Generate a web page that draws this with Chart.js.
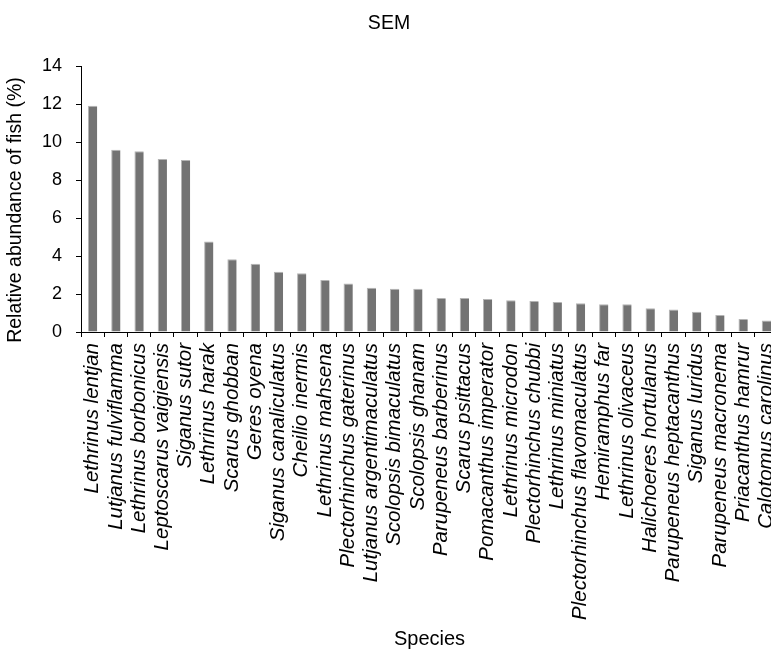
<!DOCTYPE html>
<html>
<head>
<meta charset="utf-8">
<script src="https://cdn.jsdelivr.net/npm/chart.js@4"></script>
<style>
  html, body { margin: 0; padding: 0; background: #fff; overflow: hidden; }
  #chart { display: block; }
</style>
</head>
<body>
<canvas id="chart" width="778" height="651"></canvas>
<script>
// Species observed, in order of decreasing relative abundance
const species = [
  'Lethrinus lentjan', 'Lutjanus fulviflamma', 'Lethrinus borbonicus',
  'Leptoscarus vaigiensis', 'Siganus sutor', 'Lethrinus harak',
  'Scarus ghobban', 'Geres oyena', 'Siganus canaliculatus',
  'Cheilio inermis', 'Lethrinus mahsena', 'Plectorhinchus gaterinus',
  'Lutjanus argentimaculatus', 'Scolopsis bimaculatus', 'Scolopsis ghanam',
  'Parupeneus barberinus', 'Scarus psittacus', 'Pomacanthus imperator',
  'Lethrinus microdon', 'Plectorhinchus chubbi', 'Lethrinus miniatus',
  'Plectorhinchus flavomaculatus', 'Hemiramphus far', 'Lethrinus olivaceus',
  'Halichoeres hortulanus', 'Parupeneus heptacanthus', 'Siganus luridus',
  'Parupeneus macronema', 'Priacanthus hamrur', 'Calotomus carolinus'
];

// Relative abundance of fish (%)
const abundance = [
  11.93, 9.61, 9.53, 9.12, 9.07, 4.77, 3.83, 3.6, 3.17, 3.1,
  2.74, 2.56, 2.33, 2.28, 2.28, 1.79, 1.79, 1.74, 1.68, 1.63,
  1.58, 1.51, 1.46, 1.46, 1.25, 1.19, 1.07, 0.89, 0.68, 0.61
];

// Y axis range and step
const yMin = 0;
const yMax = 14;
const yStep = 2;

const FONT = '"Liberation Sans", Arial, sans-serif';

new Chart(document.getElementById('chart'), {
  type: 'bar',
  data: {
    labels: species,
    datasets: [{
      data: abundance,
      backgroundColor: '#737373',
      borderColor: '#b4b4b4',
      borderWidth: { left: 1, top: 1, right: 0, bottom: 0 },
      borderSkipped: false,
      barPercentage: 0.4,
      categoryPercentage: 1.0
    }]
  },
  options: {
    responsive: false,
    animation: false,
    devicePixelRatio: 1,
    layout: { padding: 0 },
    plugins: {
      legend: { display: false },
      tooltip: { enabled: false },
      title: {
        display: true,
        text: 'SEM',
        color: '#000',
        font: { family: FONT, size: 19.5, weight: 'normal' },
        padding: { top: 12, bottom: 31 }
      }
    },
    scales: {
      x: {
        grid: {
          display: true,
          drawOnChartArea: false,
          drawTicks: true,
          tickLength: 5,
          color: '#000',
          offset: true
        },
        border: { display: true, color: '#000', width: 1 },
        ticks: {
          autoSkip: false,
          minRotation: 90,
          maxRotation: 90,
          padding: 6,
          color: '#000',
          font: { family: FONT, size: 20.5, style: 'italic' }
        },
        title: {
          display: true,
          text: 'Species',
          color: '#000',
          font: { family: FONT, size: 20 },
          padding: { top: 0, bottom: 0 }
        },
        afterFit: (s) => {
          s.height = 319;
          s.paddingLeft = 0;
          s.paddingRight = 0;
        }
      },
      y: {
        min: yMin,
        max: yMax,
        grid: {
          display: true,
          drawOnChartArea: false,
          drawTicks: true,
          tickLength: 5,
          color: '#000'
        },
        border: { display: true, color: '#000', width: 1 },
        ticks: {
          stepSize: yStep,
          padding: 14,
          color: '#000',
          font: { family: FONT, size: 18 }
        },
        title: {
          display: true,
          // trailing spaces nudge the centred title a little lower along the axis
          text: 'Relative abundance of fish (%)    ',
          color: '#000',
          font: { family: FONT, size: 19.5 },
          padding: { top: 4, bottom: 0 }
        },
        afterFit: (s) => { s.width = 81; }
      }
    }
  }
});
</script>
</body>
</html>
